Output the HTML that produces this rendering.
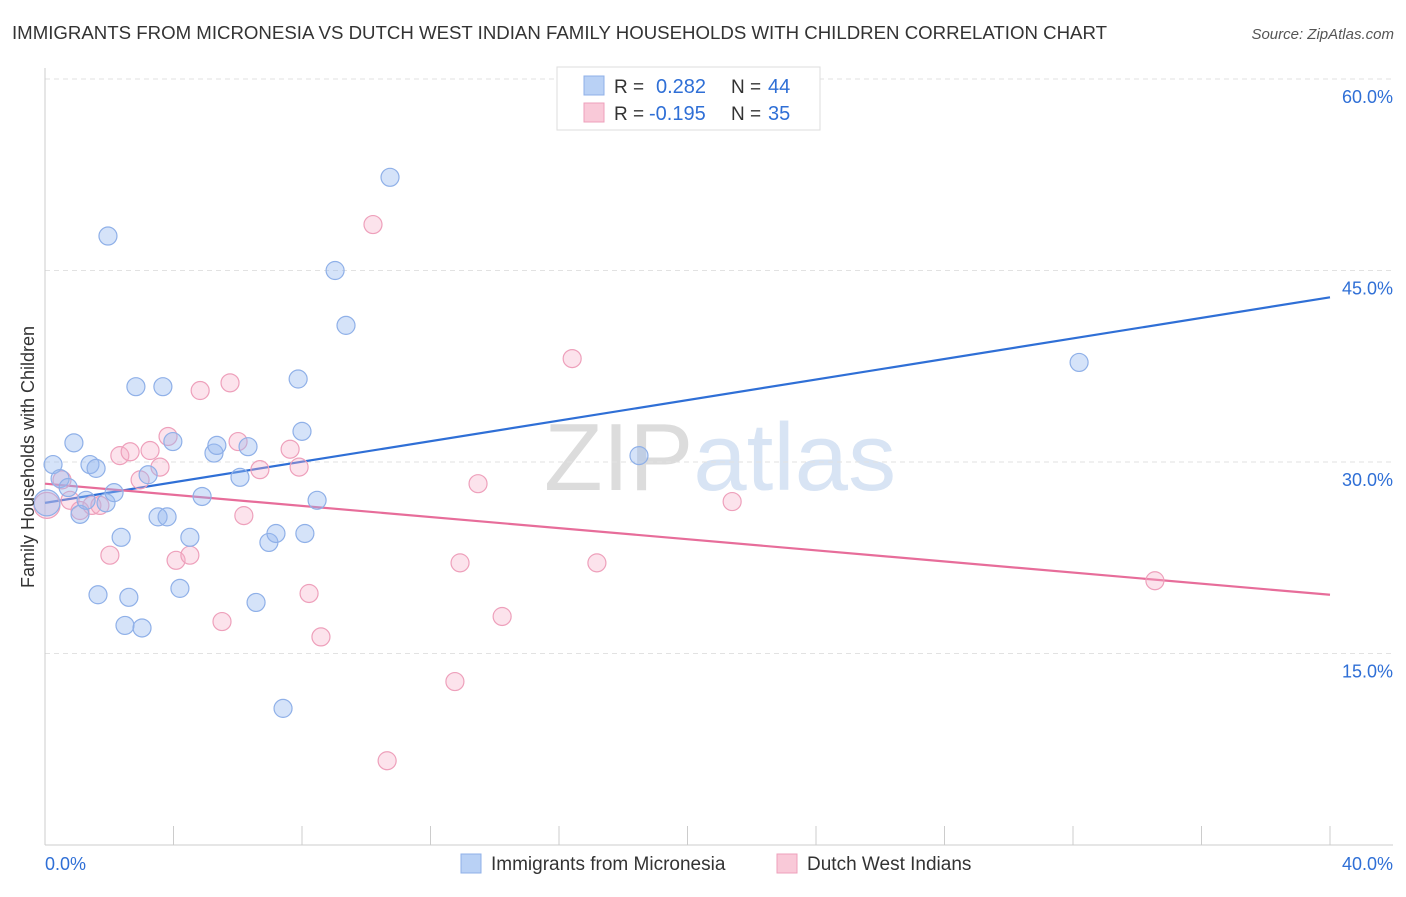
<!DOCTYPE html>
<html><head><meta charset="utf-8"><style>
body{margin:0;background:#fff;font-family:"Liberation Sans",sans-serif;}
svg text{font-family:"Liberation Sans",sans-serif;}
</style></head><body>
<svg id="chart" width="1406" height="892" xmlns="http://www.w3.org/2000/svg">
<text x="12" y="39" font-size="18" fill="#333" textLength="1095" lengthAdjust="spacingAndGlyphs">IMMIGRANTS FROM MICRONESIA VS DUTCH WEST INDIAN FAMILY HOUSEHOLDS WITH CHILDREN CORRELATION CHART</text>
<text x="1394" y="39" font-size="15" fill="#555" font-style="italic" text-anchor="end">Source: ZipAtlas.com</text>
<text x="720" y="490" font-size="96" fill="#e4e4e4" text-anchor="middle" font-family="Liberation Serif"><tspan fill="#dcdcdc">ZIP</tspan><tspan fill="#d8e4f4" font-family="Liberation Sans">atlas</tspan></text>
<g id="grid"></g><g id="axes"></g><g id="trend"></g><g id="pts"></g>
<text transform="translate(34,457) rotate(-90)" font-size="18" fill="#333" text-anchor="middle">Family Households with Children</text>
<g>
<rect x="557" y="67" width="263" height="63" fill="#fff" stroke="#ddd"/>
<rect x="584" y="76" width="20" height="19" fill="#b9d1f5" stroke="#8fb0e8"/>
<rect x="584" y="103" width="20" height="19" fill="#f9c9d8" stroke="#eea0bb"/>
<text x="614" y="93" font-size="19" fill="#333">R =</text>
<text x="656" y="93" font-size="20" fill="#2f6fd6">0.282</text>
<text x="731" y="93" font-size="19" fill="#333">N =</text>
<text x="768" y="93" font-size="20" fill="#2f6fd6">44</text>
<text x="614" y="120" font-size="19" fill="#333">R =</text>
<text x="649" y="120" font-size="20" fill="#2f6fd6">-0.195</text>
<text x="731" y="120" font-size="19" fill="#333">N =</text>
<text x="768" y="120" font-size="20" fill="#2f6fd6">35</text>
</g>
<g>
<rect x="461" y="854" width="20" height="19" fill="#b9d1f5" stroke="#8fb0e8"/>
<text x="491" y="870" font-size="19" fill="#333">Immigrants from Micronesia</text>
<rect x="777" y="854" width="20" height="19" fill="#f9c9d8" stroke="#eea0bb"/>
<text x="807" y="870" font-size="19" fill="#333">Dutch West Indians</text>
</g>
</svg>
<script>
const yTicks=[15,30,45,60];
const yTickLabels=["15.0%","30.0%","45.0%","60.0%"];
const blueX=[0.06,0.25,0.47,0.72,0.90,1.09,1.28,1.40,1.59,1.65,1.90,1.96,2.15,2.37,2.49,2.61,2.83,3.02,3.21,3.52,3.67,3.80,3.98,4.20,4.51,4.89,5.26,5.35,6.07,6.32,6.57,6.97,7.19,7.41,7.88,8.00,8.09,8.47,9.03,9.37,10.74,18.49,32.19];
const blueY=[26.8,29.8,28.7,28.0,31.5,25.9,27.0,29.8,29.5,19.6,26.8,47.7,27.6,24.1,17.2,19.4,35.9,17.0,29.0,25.7,35.9,25.7,31.6,20.1,24.1,27.3,30.7,31.3,28.8,31.2,19.0,23.7,24.4,10.7,36.5,32.4,24.4,27.0,45.0,40.7,52.3,30.5,37.8];
const pinkX=[0.06,0.53,0.78,1.09,1.46,1.71,2.02,2.33,2.65,2.96,3.27,3.58,3.83,4.08,4.51,4.83,5.51,5.76,6.01,6.19,6.69,7.63,7.91,8.22,8.59,10.21,10.65,12.76,12.92,13.48,14.23,16.41,17.18,21.39,34.55];
const pinkY=[26.6,28.6,27.0,26.2,26.6,26.6,22.7,30.5,30.8,28.6,30.9,29.6,32.0,22.3,22.7,35.6,17.5,36.2,31.6,25.8,29.4,31.0,29.6,19.7,16.3,48.6,6.6,12.8,22.1,28.3,17.9,38.1,22.1,26.9,20.7];
const blueTrend=[26.8,42.9];
const pinkTrend=[28.3,19.6];
const NS="http://www.w3.org/2000/svg";
const X=v=>45+v/40*1285, Y=v=>845-v/15*191.5;
function mk(t,a,p){const e=document.createElementNS(NS,t);for(const k in a)e.setAttribute(k,a[k]);p.appendChild(e);return e;}
const grid=document.getElementById('grid'),axes=document.getElementById('axes'),trend=document.getElementById('trend'),pts=document.getElementById('pts');
yTicks.forEach((t,i)=>{
 const l=mk('line',{x1:45,x2:1393,y1:Y(t),y2:Y(t),stroke:'#e2e2e2','stroke-dasharray':'5,4'},grid);
 
 
 const tx=mk('text',{x:1393,y:Y(t)+24,'font-size':18,fill:'#2f6fd6','text-anchor':'end'},grid);
 tx.textContent=yTickLabels[i];
 
 
});
mk('line',{x1:45,x2:45,y1:68,y2:845,stroke:'#ccc'},axes);
mk('line',{x1:45,x2:1393,y1:845,y2:845,stroke:'#ccc'},axes);
for(let k=0;k<=10;k++){const t=mk('line',{x1:X(k*4),x2:X(k*4),y1:826,y2:845,stroke:'#ccc'},axes);
 
 }
const x0=mk('text',{x:45,y:870,'font-size':18,fill:'#2f6fd6'},axes);x0.textContent='0.0%';


const x1=mk('text',{x:1393,y:870,'font-size':18,fill:'#2f6fd6','text-anchor':'end'},axes);x1.textContent='40.0%';


function dots(xs,ys,fill,stroke,name){xs.forEach((x,i)=>{const c=mk('circle',{cx:X(x),cy:Y(ys[i]),r:i===0?13:9,fill:fill,stroke:stroke,'stroke-width':1.2},pts);
 
 });}
dots(pinkX,pinkY,'rgba(245,175,200,0.35)','#eea0bb','dutch-west-indian-point');
dots(blueX,blueY,'rgba(150,185,240,0.4)','#8fb0e8','micronesia-point');
const bl=mk('line',{x1:X(0),y1:Y(blueTrend[0]),x2:X(40),y2:Y(blueTrend[1]),stroke:'#2f6fd6','stroke-width':2.2},trend);


const pl=mk('line',{x1:X(0),y1:Y(pinkTrend[0]),x2:X(40),y2:Y(pinkTrend[1]),stroke:'#e76d9a','stroke-width':2.2},trend);


</script>
</body></html>
